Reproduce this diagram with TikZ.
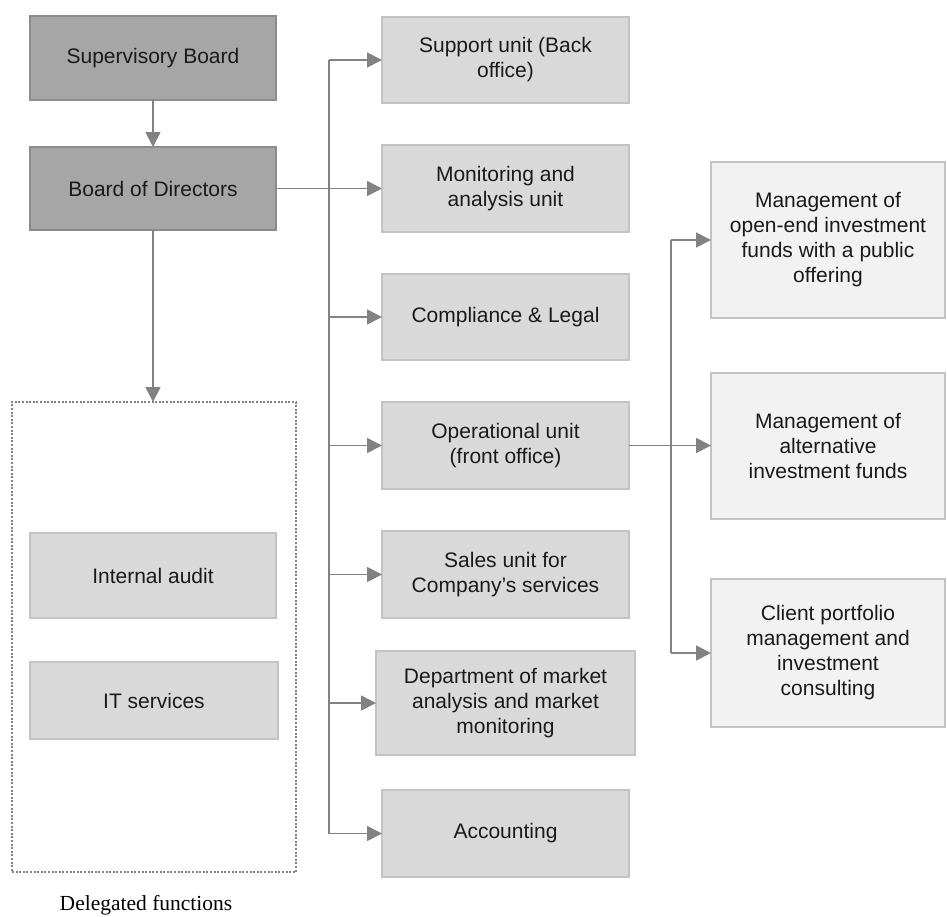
\documentclass[tikz,border=0pt]{standalone}
\usepackage{fontspec}
\setmainfont{Liberation Sans}
\newfontfamily\serifface{Liberation Serif}
\usetikzlibrary{arrows.meta}
\definecolor{darkfill}{HTML}{A6A6A6}
\definecolor{darkline}{HTML}{8C8C8C}
\definecolor{midfill}{HTML}{D9D9D9}
\definecolor{lightfill}{HTML}{F2F2F2}
\definecolor{boxline}{HTML}{C3C3C3}
\definecolor{conn}{HTML}{828282}
\definecolor{txt}{HTML}{1A1A1A}
\tikzset{
  every node/.style={inner sep=0pt, outer sep=0pt, text=txt, align=center,
    font=\fontsize{21}{25}\selectfont},
  darkbox/.style={draw=darkline, fill=darkfill, line width=2pt, rectangle},
  midbox/.style={draw=boxline, fill=midfill, line width=2pt, rectangle},
  lightbox/.style={draw=boxline, fill=lightfill, line width=2pt, rectangle},
  dotbox/.style={draw=conn, line width=2pt, dash pattern=on 2pt off 1.6pt, rectangle},
  conline/.style={draw=conn, line width=1.7pt},
  arr/.style={conline, -{Triangle[length=15pt, width=15pt]}}
}
\begin{document}
\begin{tikzpicture}[x=1pt, y=-1pt]
\useasboundingbox (0,0) rectangle (947,916);
% left column
\node[darkbox, minimum width=246pt, minimum height=84pt] (sb) at (153,58) {Supervisory Board};
\node[darkbox, minimum width=246pt, minimum height=83pt] (bod) at (153,188.5) {Board of Directors};
\node[dotbox, minimum width=284pt, minimum height=470pt] (deleg) at (154,637) {};
\node[midbox, minimum width=246pt, minimum height=85pt] (audit) at (153,575.5) {Internal audit};
\node[midbox, minimum width=248pt, minimum height=77pt] (it) at (154,700.5) {IT services};
\node[font=\serifface\fontsize{21.5}{25}\selectfont, text=black] (lbl) at (146,905) {Delegated functions};
% middle column
\node[midbox, minimum width=247pt, minimum height=86pt] (sup) at (505.5,60) {Support unit (Back\\office)};
\node[midbox, minimum width=247pt, minimum height=87pt] (mon) at (505.5,188.5) {Monitoring and\\analysis unit};
\node[midbox, minimum width=247pt, minimum height=86pt] (comp) at (505.5,317) {Compliance \& Legal};
\node[midbox, minimum width=247pt, minimum height=87pt] (op) at (505.5,445.5) {Operational unit\\(front office)};
\node[midbox, minimum width=247pt, minimum height=87pt] (sales) at (505.5,574.5) {Sales unit for\\Company’s services};
\node[midbox, minimum width=259pt, minimum height=104pt] (dept) at (505.5,703) {Department of market\\analysis and market\\monitoring};
\node[midbox, minimum width=247pt, minimum height=87pt] (acc) at (505.5,833.5) {Accounting};
% right column
\node[lightbox, minimum width=234pt, minimum height=156pt] (r1) at (828,240) {Management of\\open-end investment\\funds with a public\\offering};
\node[lightbox, minimum width=234pt, minimum height=146pt] (r2) at (828,446) {Management of\\alternative\\investment funds};
\node[lightbox, minimum width=234pt, minimum height=148pt] (r3) at (828,653) {Client portfolio\\management and\\investment\\consulting};
% connectors
\coordinate (spx) at (329,0);
\coordinate (rsx) at (671,0);
\draw[arr] (sb.south) -- (bod.north);
\draw[arr] (bod.south) -- (bod.south |- deleg.north);
\draw[conline] (sup.west -| spx) -- (acc.west -| spx);
\draw[arr] (bod.east) -- (mon.west);
\foreach \n in {sup,comp,op,sales,dept,acc}{
  \draw[arr] (\n.west -| spx) -- (\n.west);
}
\draw[conline] (r1.west -| rsx) -- (r3.west -| rsx);
\draw[arr] (op.east) -- (op.east -| r2.west);
\draw[arr] (r1.west -| rsx) -- (r1.west);
\draw[arr] (r3.west -| rsx) -- (r3.west);
\end{tikzpicture}
\end{document}
